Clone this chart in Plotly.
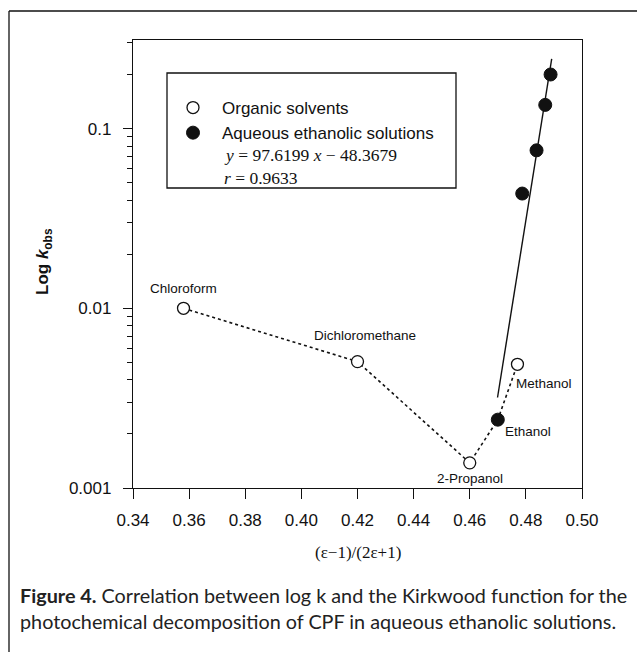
import numpy as np
import plotly.graph_objects as go

# ---------------- data ----------------
organic_names = ["Chloroform", "Dichloromethane", "2-Propanol", "Methanol"]
organic_x = [0.358, 0.420, 0.460, 0.477]
organic_k = [0.0100, 0.00505, 0.00138, 0.00488]

aqueous_label = "Ethanol"
aqueous_x = [0.470, 0.4787, 0.4838, 0.4869, 0.4888]
aqueous_k = [0.00240, 0.0435, 0.0757, 0.1355, 0.200]

fit_slope = 97.6199
fit_intercept = -48.3679
fit_r = 0.9633
fit_x_range = [0.4699, 0.4892]

x_ticks = [0.34, 0.36, 0.38, 0.40, 0.42, 0.44, 0.46, 0.48, 0.50]
x_ticktext = ["0.34", "0.36", "0.38", "0.40", "0.42", "0.44", "0.46", "0.48", "0.50"]
y_ticks = [0.001, 0.01, 0.1]
y_ticktext = ["0.001", "0.01", "0.1"]
y_minor = [m * 10.0 ** e for e in (-3, -2) for m in range(2, 10)] + [0.2, 0.3]

# dotted path through the pure solvents (organic + ethanol), ordered by x
path = sorted(list(zip(organic_x, organic_k)) + [(aqueous_x[0], aqueous_k[0])])
path_x = [p[0] for p in path]
path_k = [p[1] for p in path]

fit_x = np.array(fit_x_range)
fit_k = 10 ** (fit_slope * fit_x + fit_intercept)

# ---------------- figure ----------------
W, H = 637, 652
L, R, T, B = 133, 55, 40, 164
pw, ph = W - L - R, H - T - B


def px(xp):
    return (xp - L) / pw


def py(yp):
    return (H - B - yp) / ph


AX_FONT = dict(family="Liberation Sans, Arial, sans-serif", size=17, color="#111111")

fig = go.Figure()

fig.add_trace(go.Scatter(
    x=path_x, y=path_k, mode="lines",
    line=dict(color="#111111", width=1.6, dash="dot"),
    showlegend=False, hoverinfo="skip"))

fig.add_trace(go.Scatter(
    x=list(fit_x), y=list(fit_k), mode="lines",
    line=dict(color="#111111", width=1.4),
    showlegend=False, hoverinfo="skip"))

fig.add_trace(go.Scatter(
    x=organic_x, y=organic_k, mode="markers", name="Organic solvents",
    marker=dict(symbol="circle", size=12, color="white",
                line=dict(color="#111111", width=1.3))))

fig.add_trace(go.Scatter(
    x=aqueous_x, y=aqueous_k, mode="markers", name="Aqueous ethanolic solutions",
    marker=dict(symbol="circle", size=13, color="#111111",
                line=dict(color="#111111", width=1))))

# point labels (offsets in px relative to the data point)
label_font = dict(family="Liberation Sans, Arial, sans-serif", size=13.5, color="#111111")
offsets = {
    "Chloroform": ("center", 0, 20),
    "Dichloromethane": ("center", 7, 26),
    "2-Propanol": ("center", 0, -16),
    "Methanol": ("left", -3, -19),
}
for n, xv, kv in zip(organic_names, organic_x, organic_k):
    xa, xs, ys = offsets[n]
    fig.add_annotation(x=xv, y=np.log10(kv), xref="x", yref="y", text=n,
                       showarrow=False, xanchor=xa, yanchor="middle",
                       xshift=xs, yshift=ys, font=label_font)
fig.add_annotation(x=aqueous_x[0], y=np.log10(aqueous_k[0]), xref="x", yref="y",
                   text=aqueous_label, showarrow=False, xanchor="left",
                   yanchor="middle", xshift=5, yshift=-12, font=label_font)

# legend box + regression text
fig.add_shape(type="rect", xref="paper", yref="paper",
              x0=px(167), x1=px(456), y0=py(188), y1=py(73),
              line=dict(color="#111111", width=1.3), fillcolor="rgba(0,0,0,0)")
serif = dict(family="Liberation Serif, Times New Roman, serif", size=17.5, color="#111111")
fig.add_annotation(xref="paper", yref="paper", x=px(222), y=py(155),
                   xanchor="left", yanchor="middle", showarrow=False,
                   text=f"<i>y</i> = {fit_slope:.4f} <i>x</i> \u2212 {abs(fit_intercept):.4f}",
                   font=serif)
fig.add_annotation(xref="paper", yref="paper", x=px(222), y=py(178),
                   xanchor="left", yanchor="middle", showarrow=False,
                   text=f"<i>r</i> = {fit_r:.4f}", font=serif)

# axis titles
fig.add_annotation(xref="paper", yref="paper", x=0.5, y=py(552),
                   xanchor="center", yanchor="middle", showarrow=False,
                   text="(\u03b5\u22121)/(2\u03b5+1)",
                   font=dict(family="Liberation Serif, Times New Roman, serif", size=17, color="#111111"))
fig.add_annotation(xref="paper", yref="paper", x=px(44), y=py(262),
                   xanchor="center", yanchor="middle", showarrow=False, textangle=-90,
                   text="<b>Log <i>k</i><sub>obs</sub></b>",
                   font=dict(family="Liberation Sans, Arial, sans-serif", size=17, color="#111111"))

# caption
fig.add_annotation(xref="paper", yref="paper", x=px(18), y=py(608),
                   xanchor="left", yanchor="middle", showarrow=False, align="left",
                   text="<b>Figure 4.</b> Correlation between log k and the Kirkwood function for the<br>"
                        "photochemical decomposition of CPF in aqueous ethanolic solutions.",
                   font=dict(family="Lato, Open Sans, sans-serif", size=19.8, color="#222222"))

# outer frame (top and left)
fig.add_shape(type="line", xref="paper", yref="paper",
              x0=px(9), x1=px(637), y0=py(11), y1=py(11),
              line=dict(color="#111111", width=1.3))
fig.add_shape(type="line", xref="paper", yref="paper",
              x0=px(9), x1=px(9), y0=py(11), y1=py(652),
              line=dict(color="#111111", width=1.3))

fig.update_layout(
    width=W, height=H,
    margin=dict(l=L, r=R, t=T, b=B),
    paper_bgcolor="white", plot_bgcolor="white",
    showlegend=True,
    legend=dict(x=px(164), y=py(90), xanchor="left", yanchor="top",
                font=dict(family="Liberation Sans, Arial, sans-serif", size=17, color="#111111"),
                bgcolor="rgba(0,0,0,0)", borderwidth=0, itemwidth=48,
                tracegroupgap=0),
    xaxis=dict(range=[0.34, 0.50], tickvals=x_ticks, ticktext=x_ticktext,
               ticks="outside", ticklen=10, tickwidth=1.3, tickcolor="#111111",
               showline=True, linecolor="#111111", linewidth=1.3, mirror=True,
               showgrid=False, zeroline=False, tickfont=AX_FONT, ticklabelstandoff=6),
    yaxis=dict(type="log", range=[-3, -0.507], tickvals=y_ticks, ticktext=y_ticktext,
               ticks="outside", ticklen=9, tickwidth=1.3, tickcolor="#111111",
               minor=dict(tickvals=y_minor, ticks="outside", ticklen=5,
                          tickwidth=1.1, tickcolor="#111111", showgrid=False),
               showline=True, linecolor="#111111", linewidth=1.3, mirror=True,
               showgrid=False, zeroline=False, tickfont=AX_FONT, ticklabelstandoff=8),
)

fig.write_html("out.html")
